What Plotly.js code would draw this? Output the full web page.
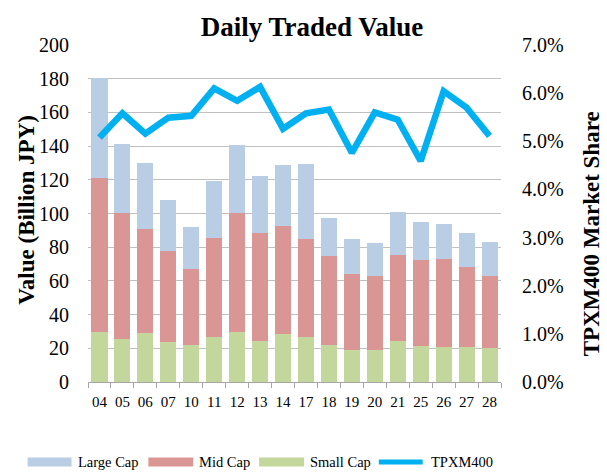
<!DOCTYPE html>
<html>
<head>
<meta charset="utf-8">
<script src="https://cdn.plot.ly/plotly-3.0.1.min.js"></script>
<style>html,body{margin:0;padding:0;background:#fff;}#chart{width:607px;height:473px;}</style>
</head>
<body>
<div id="chart"></div>
<script>
var categories = ['04','05','06','07','10','11','12','13','14','17','18','19','20','21','25','26','27','28'];
var smallCap = [29.4,25.8,29.0,23.8,22.1,26.8,29.8,24.6,28.4,26.6,22.1,19.1,19.1,24.6,21.3,20.7,20.7,20.3];
var midCap   = [91.7,74.4,61.7,53.9,44.9,58.8,70.6,63.9,64.1,58.4,52.6,45.0,44.0,50.9,51.1,52.1,47.3,42.4];
var largeCap = [59.1,40.8,39.3,30.3,25.0,33.9,40.0,34.0,36.1,44.6,22.9,20.7,19.5,25.5,22.6,21.1,20.2,20.5];
var tpxm400Share = [0.0508,0.0558,0.0516,0.0549,0.0553,0.0610,0.0584,0.0613,0.0526,0.0558,0.0566,0.0476,0.0560,0.0545,0.0459,0.0604,0.0570,0.0511];
var yTickVals = [0,20,40,60,80,100,120,140,160,180,200];

var colors = {large:'#b9cde5', mid:'#d99694', small:'#c3d69b', line:'#00b0f0'};
var FONT = 'Liberation Serif, Times New Roman, serif';

var W = 607, H = 473;
var M = {l:87.5, r:105.5, t:44.7, b:90.7};
function px(x){ return (x - M.l) / (W - M.l - M.r); }
function py(y){ return (H - M.b - y) / (H - M.t - M.b); }

var traces = [
  {type:'bar', name:'Small Cap', x:categories, y:smallCap, marker:{color:colors.small}, showlegend:false},
  {type:'bar', name:'Mid Cap', x:categories, y:midCap, marker:{color:colors.mid}, showlegend:false},
  {type:'bar', name:'Large Cap', x:categories, y:largeCap, marker:{color:colors.large}, showlegend:false},
  {type:'scatter', mode:'lines', name:'TPXM400', x:categories, y:tpxm400Share, yaxis:'y2',
   line:{color:colors.line, width:6.5}, showlegend:false}
];

// custom legend
var legendItems = [
  {label:'Large Cap', x0:27, x1:71, color:colors.large, kind:'rect'},
  {label:'Mid Cap', x0:148, x1:193, color:colors.mid, kind:'rect'},
  {label:'Small Cap', x0:259, x1:304, color:colors.small, kind:'rect'},
  {label:'TPXM400', x0:377, x1:425, color:colors.line, kind:'line'}
];
var shapes = [], annotations = [];
var ly = 462.5;
legendItems.forEach(function(it){
  if (it.kind === 'rect') {
    shapes.push({type:'rect', xref:'paper', yref:'paper', x0:px(it.x0), x1:px(it.x1), y0:py(ly+4.5), y1:py(ly-4.5),
      fillcolor:it.color, line:{width:0}});
  } else {
    shapes.push({type:'line', xref:'paper', yref:'paper', x0:px(it.x0+2), x1:px(it.x1-2), y0:py(ly), y1:py(ly),
      line:{color:it.color, width:5}});
  }
  annotations.push({xref:'paper', yref:'paper', x:px(it.x1+4), y:py(ly), xanchor:'left', yanchor:'middle',
    text:it.label, showarrow:false, font:{family:FONT, size:14.5, color:'#000'}});
});

// axis titles as annotations
annotations.push({xref:'paper', yref:'paper', x:px(25), y:py(210), xanchor:'center', yanchor:'middle',
  textangle:-90, text:'<b>Value (Billion JPY)</b>', showarrow:false, font:{family:FONT, size:23, color:'#000'}});
annotations.push({xref:'paper', yref:'paper', x:px(593), y:py(234), xanchor:'center', yanchor:'middle',
  textangle:-90, text:'<b>TPXM400 Market Share</b>', showarrow:false, font:{family:FONT, size:23, color:'#000'}});

var layout = {
  width:W, height:H,
  margin:{l:M.l, r:M.r, t:M.t, b:M.b, pad:0},
  paper_bgcolor:'#fff', plot_bgcolor:'#fff',
  barmode:'stack', bargap:0.3,
  showlegend:false,
  title:{text:'<b>Daily Traded Value</b>', font:{family:FONT, size:27, color:'#000'},
         x:312/W, xref:'container', xanchor:'center', y:1-27/H, yref:'container', yanchor:'middle'},
  font:{family:FONT, color:'#000'},
  xaxis:{type:'category', tickfont:{family:FONT, size:15, color:'#000'}, tickangle:0,
         showline:true, linecolor:'#a6a6a6', linewidth:1,
         ticks:'outside', tickson:'boundaries', ticklen:5, tickcolor:'#a6a6a6',
         showgrid:false, ticklabelstandoff:6},
  yaxis:{range:[0,200], tickvals:yTickVals, tickfont:{family:FONT, size:20, color:'#000'},
         showgrid:true, gridcolor:'#c0c0c0', gridwidth:1, zeroline:false, showline:false,
         ticks:'', ticklabelstandoff:18},
  yaxis2:{range:[0,0.07], dtick:0.01, tick0:0, tickformat:'.1%', overlaying:'y', side:'right',
          tickfont:{family:FONT, size:20, color:'#000'}, showgrid:false, zeroline:false, showline:false,
          ticks:'', ticklabelstandoff:20},
  shapes:shapes, annotations:annotations
};

Plotly.newPlot('chart', traces, layout, {displayModeBar:false, staticPlot:true});
</script>
</body>
</html>
